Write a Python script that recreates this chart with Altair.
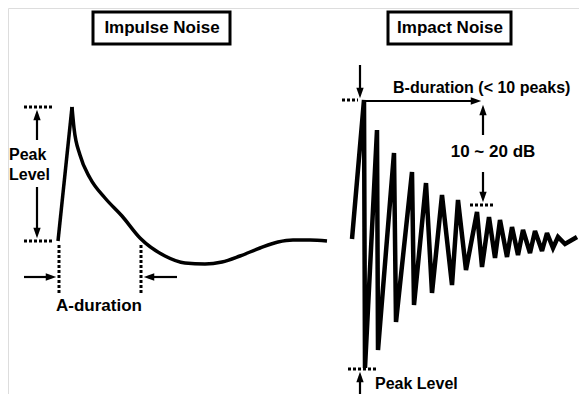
import altair as alt
import pandas as pd

# ---- Impulse noise waveform (rise + decay) ----
impulse_rise_x = [58, 72]
impulse_rise_y = [241, 107]
impulse_decay_x = [72, 74, 80, 90, 105, 122, 140, 165, 185, 205, 222, 240, 260, 278, 293, 310, 327]
impulse_decay_y = [107, 128, 155, 178, 198, 216, 238, 256, 263, 264, 262, 256, 248, 242, 240, 240, 241]

# ---- Impact noise waveform (peaks / valleys) ----
impact_start = (352, 239)
impact_peak_x = [364, 377, 394, 412, 426, 442, 458, 477, 489, 500, 512, 523, 535, 547, 558]
impact_peak_y = [100, 130, 153, 172, 183, 195, 200, 212, 217, 220, 227, 230, 231, 233, 237]
impact_valley_x = [365, 378, 396, 414, 432, 452, 466, 482, 495, 507, 518, 530, 542, 553, 565]
impact_valley_y = [368, 350, 322, 305, 293, 285, 270, 267, 258, 257, 255, 253, 251, 248, 244]
impact_end = (577, 237)

# ---- Annotation geometry ----
solid_x1 = [37, 37, 24, 177, 360, 364, 483, 483, 360]
solid_y1 = [140, 187, 277, 277, 65, 101, 135, 172, 394]
solid_x2 = [37, 37, 52, 148, 360, 476, 483, 483, 360]
solid_y2 = [114, 234, 277, 277, 92, 101, 110, 198, 376]

dash_x1 = [24, 24, 59, 141, 342, 470, 348]
dash_y1 = [107, 241, 245, 245, 100, 205, 369]
dash_x2 = [54, 54, 59, 141, 358, 495, 377]
dash_y2 = [107, 241, 293, 293, 100, 205, 369]

head_x = [37, 37, 51, 149, 360, 476, 483, 483, 360]
head_y = [115, 233, 277, 277, 93, 101, 110, 197, 377]
head_angle = [0, 180, 90, 270, 180, 90, 0, 180, 0]

box_x1 = [93, 388]
box_x2 = [230, 511]
box_y1 = [12, 12]
box_y2 = [44, 44]

label_text = ["Impulse Noise", "Impact Noise", "A-duration", "10 ~ 20 dB"]
label_x = [162, 450, 99, 493]
label_y = [28, 28, 306, 152]

left_text = ["Peak", "Level", "B-duration (< 10 peaks)"]
left_x = [9, 9, 393]
left_y = [155, 175, 88]

bottom_text = ["Peak Level"]
bottom_x = [375]
bottom_y = [389]

# ---- Build tables ----
rise = pd.DataFrame({"x": impulse_rise_x, "y": impulse_rise_y, "i": range(len(impulse_rise_x))})
decay = pd.DataFrame({"x": impulse_decay_x, "y": impulse_decay_y, "i": range(len(impulse_decay_x))})

ix, iy = [impact_start[0]], [impact_start[1]]
for px, py, vx, vy in zip(impact_peak_x, impact_peak_y, impact_valley_x, impact_valley_y):
    ix += [px, vx]
    iy += [py, vy]
ix.append(impact_end[0]); iy.append(impact_end[1])
impact = pd.DataFrame({"x": ix, "y": iy, "i": range(len(ix))})

solid = pd.DataFrame({"x": solid_x1, "y": solid_y1, "x2": solid_x2, "y2": solid_y2})
dash = pd.DataFrame({"x": dash_x1, "y": dash_y1, "x2": dash_x2, "y2": dash_y2})
heads = pd.DataFrame({"x": head_x, "y": head_y, "a": head_angle})
boxes = pd.DataFrame({"x": box_x1, "x2": box_x2, "y": box_y1, "y2": box_y2})
labels = pd.DataFrame({"t": label_text, "x": label_x, "y": label_y})
lefts = pd.DataFrame({"t": left_text, "x": left_x, "y": left_y})
bottoms = pd.DataFrame({"t": bottom_text, "x": bottom_x, "y": bottom_y})

XS = alt.Scale(domain=[8, 579], nice=False, zero=False)
YS = alt.Scale(domain=[8, 394], reverse=True, nice=False, zero=False)

def X(f="x"):
    return alt.X(f"{f}:Q", scale=XS, axis=None)

def Y(f="y"):
    return alt.Y(f"{f}:Q", scale=YS, axis=None)

FONT = "Liberation Sans"

l_rise = alt.Chart(rise).mark_line(color="black", strokeWidth=3.5).encode(
    x=X(), y=Y(), order="i:Q")
l_decay = alt.Chart(decay).mark_line(color="black", strokeWidth=3.5, interpolate="monotone").encode(
    x=X(), y=Y(), order="i:Q")
l_impact = alt.Chart(impact).mark_line(color="black", strokeWidth=4.5, strokeJoin="miter", strokeMiterLimit=3).encode(
    x=X(), y=Y(), order="i:Q")

r_solid = alt.Chart(solid).mark_rule(color="black", strokeWidth=2.2).encode(
    x=X(), y=Y(), x2="x2:Q", y2="y2:Q")
r_dash = alt.Chart(dash).mark_rule(color="black", strokeWidth=3, strokeDash=[3, 2]).encode(
    x=X(), y=Y(), x2="x2:Q", y2="y2:Q")

p_heads = alt.Chart(heads).mark_point(
    shape="M-0.7,1L0,-1L0.7,1Z", filled=True, color="black", opacity=1, size=110
).encode(x=X(), y=Y(), angle=alt.Angle("a:Q", scale=None))

r_boxes = alt.Chart(boxes).mark_rect(fill="white", fillOpacity=0, stroke="black", strokeWidth=3).encode(
    x=X(), x2="x2:Q", y=Y(), y2="y2:Q")

t_center = alt.Chart(labels).mark_text(
    font=FONT, fontSize=17, fontWeight="bold", color="black", align="center", baseline="middle"
).encode(x=X(), y=Y(), text="t:N")
t_left = alt.Chart(lefts).mark_text(
    font=FONT, fontSize=16, fontWeight="bold", color="black", align="left", baseline="middle"
).encode(x=X(), y=Y(), text="t:N")
t_bottom = alt.Chart(bottoms).mark_text(
    font=FONT, fontSize=16, fontWeight="bold", color="black", align="left", baseline="alphabetic"
).encode(x=X(), y=Y(), text="t:N")

chart = alt.layer(
    r_boxes, r_dash, r_solid, p_heads, l_rise, l_decay, l_impact, t_center, t_left, t_bottom
).properties(
    width=571, height=386, padding=0, autosize=alt.AutoSizeParams(type="none")
).configure_view(stroke=None, strokeWidth=0).configure(background="white")

chart.save("out.html", embed_options={"renderer": "svg", "actions": False})
